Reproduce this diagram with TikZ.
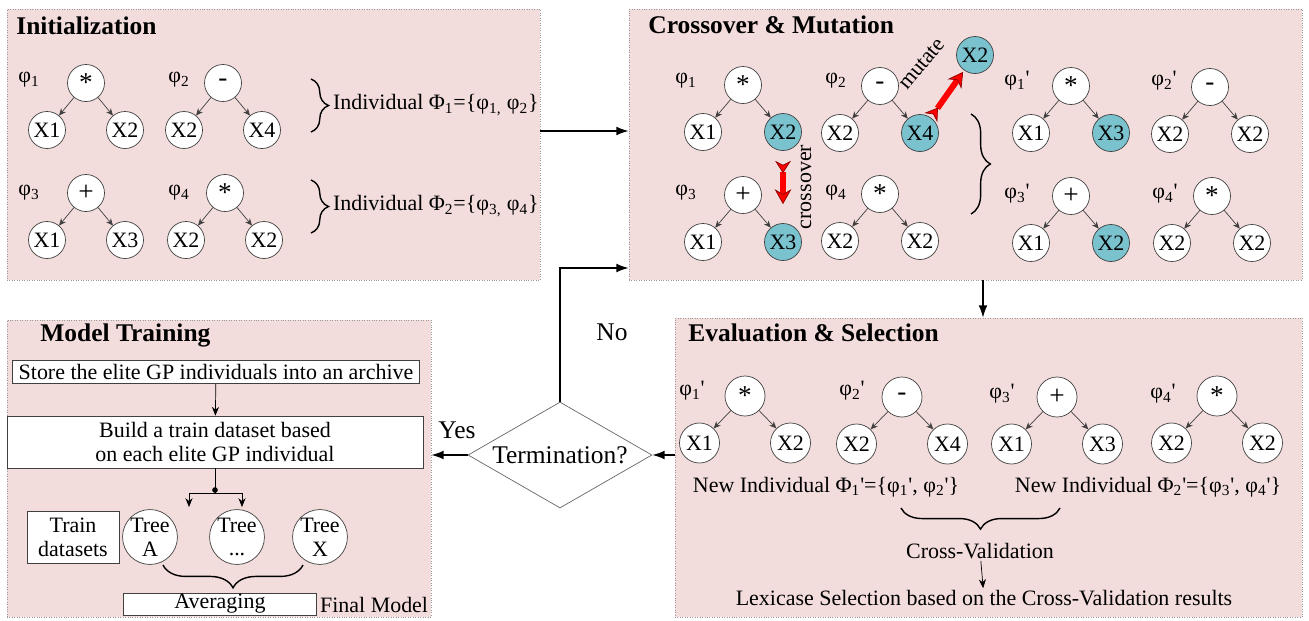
\documentclass[tikz,border=0pt]{standalone}
\usepackage{fontspec}
\setmainfont{Liberation Serif}
\usetikzlibrary{arrows.meta,shapes.geometric,decorations.pathreplacing,fit,positioning}

\definecolor{panelbg}{RGB}{242,221,220}
\definecolor{mutblue}{RGB}{122,194,206}
\newcommand{\bodyfont}{\fontsize{12.5}{13.5}\selectfont}
\newcommand{\ph}[1]{φ\textsubscript{#1}}
\newcommand{\pr}{\textquotesingle}
\newcommand{\lspread}{37}
% one GP tree: name, root, label position, label, operator, leaves, leaf fills
\newcommand{\gptree}[9]{%
  \node[root] (#1) at (#2) {#5};
  \node[tlabel] (#1-l) at (#3) {#4};
  \path (#1) ++(-\lspread,47) node[leaf,fill=#8] (#1-a) {#6};
  \path (#1) ++(\lspread,47) node[leaf,fill=#9] (#1-b) {#7};
  \draw[edge] (#1) -- (#1-a);
  \draw[edge] (#1) -- (#1-b);
}

\begin{document}
\begin{tikzpicture}[
  x=0.02cm,y=-0.02cm,
  panel/.style={draw=black!40,densely dotted,fill=panelbg,inner sep=0pt},
  title/.style={anchor=west,inner sep=0pt,font=\fontsize{14.5}{16}\selectfont\bfseries},
  txt/.style={inner sep=1pt,font=\bodyfont},
  bigtxt/.style={inner sep=1pt,font=\fontsize{14.5}{16}\selectfont},
  op/.style={circle,draw=black!75,fill=white,minimum size=0.74cm,inner sep=0pt,font=\bodyfont},
  root/.style={op,font=\fontsize{15.5}{16}\selectfont},
  leaf/.style={op},
  tlabel/.style={inner sep=0pt,font=\bodyfont},
  treec/.style={circle,draw=black!75,fill=white,minimum size=1.06cm,inner sep=0pt,
    align=center,font=\bodyfont},
  box/.style={draw=black!75,fill=white,inner sep=0pt,align=center,font=\bodyfont},
  edge/.style={black!75,-{Stealth[length=4pt,width=3.5pt]}},
  sflow/.style={black,-{Stealth[length=5pt,width=4pt]}},
  flow/.style={thick,-{Latex[length=7pt,width=5pt]}},
  curly/.style={decorate,decoration={brace,amplitude=#1},thick},
  redarrow/.style={red,line width=3.4pt,
    {Stealth[reversed,length=7pt,width=9pt,fill=red,color=red!55!black,line width=0.4pt]}-{Stealth[length=8.5pt,width=9.5pt,fill=red,color=red!55!black,line width=0.4pt]}}
]
  \useasboundingbox (0,0) rectangle (1309,620);

  % panels
  \node[panel,fit={(7,9) (540,280)}] (init) {};
  \node[panel,fit={(629,9) (1302,280)}] (cross) {};
  \node[panel,fit={(7,320) (431,617)}] (model) {};
  \node[panel,fit={(675,318) (1302,617)}] (eval) {};

  % initialization
  \node[title] (ititle) at (16,26) {Initialization};
  \renewcommand{\lspread}{39}
  \gptree{i1}{86,83}{29,80}{\ph{1}}{*}{X1}{X2}{white}{white}
  \gptree{i2}{223,83}{179,80}{\ph{2}}{-}{X2}{X4}{white}{white}
  \gptree{i3}{86,193}{29,193}{\ph{3}}{+}{X1}{X3}{white}{white}
  \gptree{i4}{225,193}{179,193}{\ph{4}}{*}{X2}{X2}{white}{white}
  \draw[curly=10pt] (311,79) -- (311,132);
  \draw[curly=10pt] (311,180) -- (311,233);
  \node[txt,anchor=west] (ind1) at (331,105) {Individual Φ\textsubscript{1}=\{\ph{1,} \ph{2}\}};
  \node[txt,anchor=west] (ind2) at (331,206) {Individual Φ\textsubscript{2}=\{\ph{3,} \ph{4}\}};

  % crossover and mutation
  \node[title] (ctitle) at (648,25) {Crossover \& Mutation};
  \renewcommand{\lspread}{40}
  \gptree{c1}{743,85}{686,81}{\ph{1}}{*}{X1}{X2}{white}{mutblue}
  \gptree{c2}{880,86}{836,81}{\ph{2}}{-}{X2}{X4}{white}{mutblue}
  \gptree{c3}{743,195}{686,193}{\ph{3}}{+}{X1}{X3}{white}{mutblue}
  \gptree{c4}{880,194}{836,193}{\ph{4}}{*}{X2}{X2}{white}{white}
  \gptree{c5}{1071,86}{1017,81}{\ph{1}\pr}{*}{X1}{X3}{white}{mutblue}
  \gptree{c6}{1210,87}{1164,81}{\ph{2}\pr}{-}{X2}{X2}{white}{white}
  \gptree{c7}{1071,196}{1017,194}{\ph{3}\pr}{+}{X1}{X2}{white}{mutblue}
  \gptree{c8}{1212,196}{1165,194}{\ph{4}\pr}{*}{X2}{X2}{white}{white}
  \node[leaf,fill=mutblue] (mx) at (975,55) {X2};
  \draw[redarrow,shorten >=1pt] (c2-b) -- (mx);
  \draw[redarrow,shorten <=0.2cm,shorten >=0.38cm] (c1-b) -- (c3-b);
  \node[txt,rotate=50] (mut) at (922,64) {mutate};
  \node[txt,rotate=90] (xov) at (806,187) {crossover};
  \draw[curly=11pt] (971,114) -- (971,214);

  % evaluation and selection
  \node[title] (etitle) at (688,333) {Evaluation \& Selection};
  \begin{scope}[op/.append style={minimum size=0.8cm}]
    \renewcommand{\lspread}{45.5}
    \gptree{e1}{745,396}{692,391}{\ph{1}\pr}{*}{X1}{X2}{white}{white}
    \gptree{e2}{902,397}{852,391}{\ph{2}\pr}{-}{X2}{X4}{white}{white}
    \gptree{e3}{1057,397}{1002,394}{\ph{3}\pr}{+}{X1}{X3}{white}{white}
    \gptree{e4}{1217,396}{1163,394}{\ph{4}\pr}{*}{X2}{X2}{white}{white}
  \end{scope}
  \node[txt] (new1) at (826,487) {New Individual Φ\textsubscript{1}\pr=\{\ph{1}\pr, \ph{2}\pr\}};
  \node[txt] (new2) at (1148,487) {New Individual Φ\textsubscript{2}\pr=\{\ph{3}\pr, \ph{4}\pr\}};
  \draw[curly=12pt] (1060,508) -- (901,508);
  \node[txt] (cv) at (980,551) {Cross-Validation};
  \node[txt] (lex) at (984,598) {Lexicase Selection based on the Cross-Validation results};
  \draw[sflow] (cv) -- (lex);

  % termination test
  \node[diamond,draw=black!60,fill=white,minimum width=3.68cm,minimum height=2.12cm,
    inner sep=0pt,label={[bigtxt]center:Termination?}] (term) at (560,455) {};
  \node[bigtxt] (no) at (612,332) {No};
  \node[bigtxt] (yes) at (457,430) {Yes};

  % model training
  \node[title] (mtitle) at (40,335) {Model Training};
  \node[box,minimum width=8.14cm,minimum height=0.46cm] (store) at (216,372)
    {Store the elite GP individuals into an archive};
  \node[box,minimum width=8.32cm,minimum height=1.04cm] (build) at (215,442)
    {Build a train dataset based\\on each elite GP individual};
  \draw[sflow] (store) -- (build);
  \coordinate (split) at (215,493);
  \coordinate (ta) at (189,507);
  \coordinate (tb) at (242,507);
  \draw (build.south) -- (split);
  \fill (215,490) circle (1.6pt);
  \draw[sflow] (split) -| (ta);
  \draw[sflow] (split) -| (tb);
  \node[box,minimum width=1.84cm,minimum height=1.04cm] (train) at (73,537) {Train\\datasets};
  \node[treec] (treea) at (150,537) {Tree\\A};
  \node[treec] (treed) at (237,537) {Tree\\...};
  \node[treec] (treex) at (320,537) {Tree\\X};
  \draw[curly=13pt] (303,565) -- (163,565);
  \node[box,minimum width=3.86cm,minimum height=0.44cm] (avg) at (220,604) {Averaging};
  \node[txt,anchor=west] (final) at (318,605) {Final Model};

  % flow between stages
  \draw[flow] (init.east |- 0,131) -- (cross.west |- 0,131);
  \draw[flow] (cross.south -| 983,0) -- (eval.north -| 983,0);
  \draw[flow] (eval.west |- term.east) -- (term.east);
  \draw[flow] (term.west) -- (model.east |- term.west);
  \draw[flow] (term.north) |- (cross.west |- 0,268);
\end{tikzpicture}
\end{document}
